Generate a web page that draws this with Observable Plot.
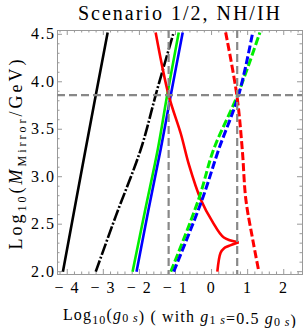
<!DOCTYPE html>
<html><head><meta charset="utf-8">
<script src="https://cdn.jsdelivr.net/npm/d3@7"></script>
<script src="https://cdn.jsdelivr.net/npm/@observablehq/plot@0.6"></script>
<style>
body{margin:0;background:#fff;}
#title{box-sizing:border-box;width:305px;height:24px;padding-top:2px;padding-left:55px;text-align:center;
  font-family:"Liberation Serif",serif;font-size:20px;letter-spacing:2px;line-height:22px;color:#000;white-space:nowrap;}
#chart svg{display:block;}
</style></head><body>
<div id="title">Scenario 1/2, NH/IH</div>
<div id="chart"></div>
<script>
// ---- data ----
const xTicks = [-4, -3, -2, -1, 0, 1, 2];
const yTicks = [2.0, 2.5, 3.0, 3.5, 4.0, 4.5];
const blackSolid = [[-4.12, 2.0], [-3.50, 3.27], [-2.88, 4.52]];
const blackDashed = [[-3.21, 2.0], [-2.66, 2.58], [-1.96, 3.29], [-1.52, 3.90], [-1.05, 4.52]];
const greenSolid = [[-2.19, 2.0], [-1.84, 2.65], [-1.49, 3.29], [-1.23, 3.86], [-0.91, 4.52]];
const blueSolid = [[-2.08, 2.0], [-1.75, 2.65], [-1.41, 3.29], [-1.13, 3.86], [-0.80, 4.52]];
const redSolidUpper = [[-1.55, 4.52], [-1.19, 3.86], [-0.85, 3.45], [-0.63, 3.13], [-0.30, 2.76], [0.02, 2.53], [0.34, 2.36], [0.75, 2.31]];
const redSolidLower = [[0.16, 2.0], [0.25, 2.20], [0.34, 2.245], [0.47, 2.27], [0.75, 2.31]];
const redDashed = [[0.39, 4.52], [0.70, 3.86], [0.85, 3.29], [0.95, 2.76], [1.14, 2.34], [1.31, 2.0]];
const blueDashed = [[-1.05, 2.0], [-0.26, 2.76], [0.20, 3.29], [0.75, 3.86], [1.14, 4.52]];
const greenDashed = [[-1.13, 2.0], [-0.36, 2.76], [0.06, 3.29], [0.72, 3.86], [1.34, 4.52]];
const hLine = [3.86];
const vLines = [-1.19, 0.71];

// ---- layout ----
const W = 305, H = 304, mL = 57, mR = 3, mT = 6, mB = 54;
const fw = W - mL - mR, fh = H - mT - mB;
const xMinor = d3.range(-42, 26, 2).map(d => d / 10).filter(d => Math.abs(d - Math.round(d)) > 1e-9);
const yMinor = d3.range(20, 46, 1).map(d => d / 10).filter(d => Math.abs(d * 2 - Math.round(d * 2)) > 1e-9);
const fmtX = d => (d < 0 ? "\u2212 " + Math.abs(d) : String(d));
const lineOpts = (stroke, width, dash) => ({x: d => d[0], y: d => d[1], stroke, strokeWidth: width,
  strokeDasharray: dash, curve: "catmull-rom", clip: true, strokeLinecap: "butt"});
const tc = "#999";

const chart = Plot.plot({
  width: W, height: H, marginLeft: mL, marginRight: mR, marginTop: mT, marginBottom: mB,
  x: {domain: [-4.27, 2.52]},
  y: {domain: [1.97, 4.54]},
  style: {fontFamily: "Liberation Serif", fontSize: "16px", background: "white", color: "black"},
  marks: [
    Plot.frame({stroke: tc}),
    Plot.tickX(xTicks, {x: d => d, insetTop: fh - 5, stroke: tc}),
    Plot.tickX(xTicks, {x: d => d, insetBottom: fh - 5, stroke: tc}),
    Plot.tickX(xMinor, {x: d => d, insetTop: fh - 2.5, stroke: tc}),
    Plot.tickX(xMinor, {x: d => d, insetBottom: fh - 2.5, stroke: tc}),
    Plot.tickY(yTicks, {y: d => d, insetRight: fw - 5, stroke: tc}),
    Plot.tickY(yTicks, {y: d => d, insetLeft: fw - 5, stroke: tc}),
    Plot.tickY(yMinor, {y: d => d, insetRight: fw - 2.5, stroke: tc}),
    Plot.tickY(yMinor, {y: d => d, insetLeft: fw - 2.5, stroke: tc}),
    Plot.line(blackSolid, lineOpts("black", 2.6)),
    Plot.line(blackDashed, lineOpts("black", 2.6, "12,2,2,2")),
    Plot.line(greenSolid, lineOpts("#00ee00", 2.6)),
    Plot.line(blueSolid, lineOpts("#0000ff", 2.6)),
    Plot.line(redSolidUpper, lineOpts("#ff0000", 2.6)),
    Plot.line(redSolidLower, lineOpts("#ff0000", 2.6)),
    Plot.line(greenDashed, lineOpts("#00ee00", 3, "8,3")),
    Plot.line(blueDashed, lineOpts("#0000ff", 3, "8,3")),
    Plot.line(redDashed, lineOpts("#ff0000", 3, "8,3")),
    Plot.ruleY(hLine, {stroke: "#888", strokeWidth: 2.2, strokeDasharray: "8,4"}),
    Plot.ruleX(vLines, {stroke: "#888", strokeWidth: 2.2, strokeDasharray: "8,4"}),
    Plot.axisX(xTicks, {tickSize: 0, tickPadding: 7, tickFormat: fmtX, label: null, fontSize: 16}),
    Plot.axisY(yTicks, {tickSize: 0, tickPadding: 2, tickFormat: d => d.toFixed(1), label: null, fontSize: 16})
  ]
});
document.getElementById("chart").appendChild(chart);

const svg = d3.select(chart);
svg.selectAll("[aria-label='x-axis tick label'] text, [aria-label='y-axis tick label'] text").style("letter-spacing", "1.5px");

function fit(sel, target) {
  const node = sel.node();
  node.style.letterSpacing = "0px";
  const w = node.getComputedTextLength();
  const n = node.textContent.length;
  node.style.letterSpacing = ((target - w) / n).toFixed(2) + "px";
}

const yl = svg.append("text")
  .attr("transform", `translate(22,${153 - 24}) rotate(-90)`)
  .attr("text-anchor", "middle")
  .style("font-family", "Liberation Serif").style("font-size", "18px").attr("fill", "black");
yl.append("tspan").text("Log");
yl.append("tspan").attr("dy", 4).style("font-size", "12px").text("10");
yl.append("tspan").attr("dy", -4).text("(");
yl.append("tspan").style("font-style", "italic").text("M");
yl.append("tspan").attr("dy", 4).style("font-size", "12px").text("Mirror");
yl.append("tspan").attr("dy", -4).text("/GeV)");
fit(yl, 193);

const xl = svg.append("text")
  .attr("transform", `translate(180,${320 - 24})`)
  .attr("text-anchor", "middle")
  .style("font-family", "Liberation Serif").style("font-size", "16px").attr("fill", "black");
const sub = (t, txt) => {
  t.append("tspan").style("font-style", "italic").text("g");
  t.append("tspan").attr("dy", 2).style("font-size", "12px").text(txt + "\u2009");
  t.append("tspan").style("font-size", "12px").style("font-style", "italic").text("s");
  t.append("tspan").attr("dy", -2).text("");
};
xl.append("tspan").text("Log");
xl.append("tspan").attr("dy", 4).style("font-size", "12px").text("10");
xl.append("tspan").attr("dy", -4).text("(");
sub(xl, "0");
xl.append("tspan").text(") ( with ");
sub(xl, "1");
xl.append("tspan").text("=0.5 ");
sub(xl, "0");
xl.append("tspan").text(")");
fit(xl, 234);
</script>
</body></html>
